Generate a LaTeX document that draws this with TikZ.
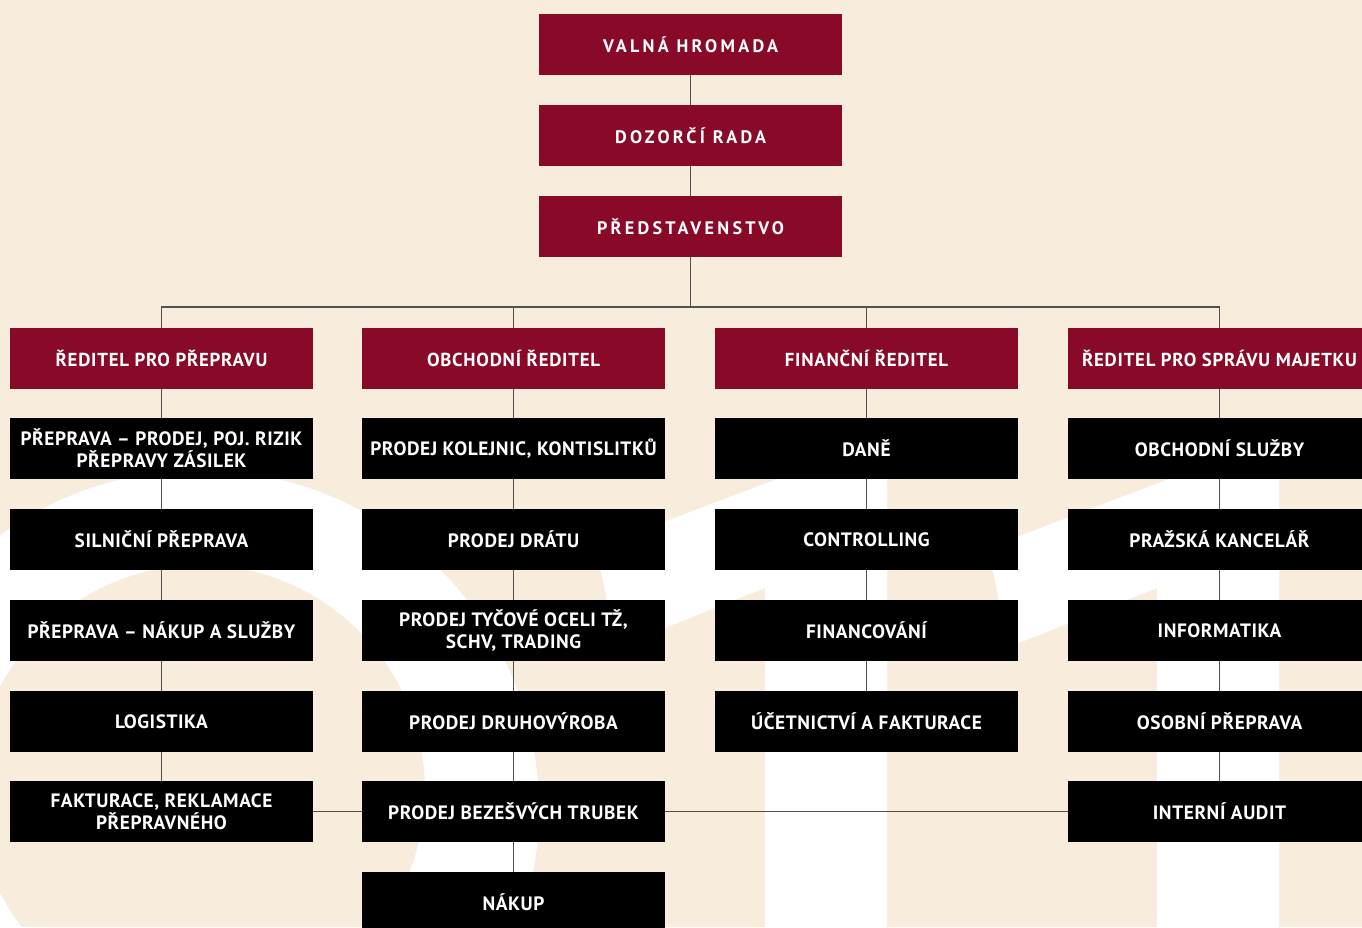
\documentclass[tikz,border=0pt]{standalone}
\usepackage{fontspec}
\setmainfont{PT Sans}
\usetikzlibrary{positioning}

\definecolor{crimson}{RGB}{136,10,40}
\definecolor{cream}{RGB}{248,237,220}
\definecolor{wirecol}{RGB}{80,80,80}

\tikzset{
  box/.style={minimum width=6.06cm, minimum height=1.22cm, inner sep=0pt,
    align=center, text=white},
  boardbox/.style={box, fill=crimson,
    font=\fontsize{10.3}{12}\selectfont\bfseries\addfontfeatures{LetterSpace=18}},
  headbox/.style={box, fill=crimson,
    font=\fontsize{10.7}{12}\selectfont\bfseries\addfontfeatures{LetterSpace=4}},
  deptbox/.style={box, fill=black,
    font=\fontsize{11}{12.5}\selectfont\bfseries\addfontfeatures{LetterSpace=3}},
  wire/.style={draw=wirecol, line width=0.6pt}
}

\begin{document}
\begin{tikzpicture}[x=0.02cm, y=-0.02cm]
  \useasboundingbox (0,0) rectangle (1362,927);
  \clip (0,0) rectangle (1362,927);
  % background letters
  \fill[cream] (0,0) rectangle (1362,927);
  \fill[white, even odd rule] (200,809) circle[radius=6.78cm] (200,790) circle[radius=4.5cm];
  \fill[white] (596,548) -- (887,437) -- (887,940) -- (765,940) -- (765,588) -- (617,647) -- cycle;
  \fill[white] (988,548) -- (1279,437) -- (1279,940) -- (1157,940) -- (1157,588) -- (1009,647) -- cycle;

  % board
  \node[boardbox] (valna) at (690.5,44.5) {VALNÁ HROMADA};
  \node[boardbox] (dozor) at (690.5,135.5) {DOZORČÍ RADA};
  \node[boardbox] (pred) at (690.5,226.5) {PŘEDSTAVENSTVO};
  \coordinate (bus) at (690.5,307);

  % directors
  \node[headbox] (hp) at (161.5,358.5) {ŘEDITEL PRO PŘEPRAVU};
  \node[headbox] (ho) at (513.5,358.5) {OBCHODNÍ ŘEDITEL};
  \node[headbox] (hf) at (866.5,358.5) {FINANČNÍ ŘEDITEL};
  \node[headbox] (hm) at (1219.5,358.5) {ŘEDITEL PRO SPRÁVU MAJETKU};

  % transport
  \node[deptbox] (p1) at (161.5,448.5) {PŘEPRAVA – PRODEJ, POJ. RIZIK\\PŘEPRAVY ZÁSILEK};
  \node[deptbox] (p2) at (161.5,539.5) {SILNIČNÍ PŘEPRAVA};
  \node[deptbox] (p3) at (161.5,630.5) {PŘEPRAVA – NÁKUP A SLUŽBY};
  \node[deptbox] (p4) at (161.5,721.5) {LOGISTIKA};
  \node[deptbox] (p5) at (161.5,811.5) {FAKTURACE, REKLAMACE\\PŘEPRAVNÉHO};

  % sales
  \node[deptbox] (o1) at (513.5,448.5) {PRODEJ KOLEJNIC, KONTISLITKŮ};
  \node[deptbox] (o2) at (513.5,539.5) {PRODEJ DRÁTU};
  \node[deptbox] (o3) at (513.5,630.5) {PRODEJ TYČOVÉ OCELI TŽ,\\SCHV, TRADING};
  \node[deptbox] (o4) at (513.5,721.5) {PRODEJ DRUHOVÝROBA};
  \node[deptbox] (o5) at (513.5,811.5) {PRODEJ BEZEŠVÝCH TRUBEK};
  \node[deptbox] (o6) at (513.5,902.5) {NÁKUP};

  % finance
  \node[deptbox] (f1) at (866.5,448.5) {DANĚ};
  \node[deptbox] (f2) at (866.5,539.5) {CONTROLLING};
  \node[deptbox] (f3) at (866.5,630.5) {FINANCOVÁNÍ};
  \node[deptbox] (f4) at (866.5,721.5) {ÚČETNICTVÍ A FAKTURACE};

  % property
  \node[deptbox] (m1) at (1219.5,448.5) {OBCHODNÍ SLUŽBY};
  \node[deptbox] (m2) at (1219.5,539.5) {PRAŽSKÁ KANCELÁŘ};
  \node[deptbox] (m3) at (1219.5,630.5) {INFORMATIKA};
  \node[deptbox] (m4) at (1219.5,721.5) {OSOBNÍ PŘEPRAVA};
  \node[deptbox] (m5) at (1219.5,811.5) {INTERNÍ AUDIT};

  % connectors
  \draw[wire] (valna) -- (dozor) -- (pred) -- (bus);
  \draw[wire] (hp) |- (bus) -| (hm);
  \draw[wire] (ho) -- (ho |- bus);
  \draw[wire] (hf) -- (hf |- bus);
  \draw[wire] (hp) -- (p1) -- (p2) -- (p3) -- (p4) -- (p5);
  \draw[wire] (ho) -- (o1) -- (o2) -- (o3) -- (o4) -- (o5) -- (o6);
  \draw[wire] (hf) -- (f1) -- (f2) -- (f3) -- (f4);
  \draw[wire] (hm) -- (m1) -- (m2) -- (m3) -- (m4) -- (m5);
  \draw[wire] (p5) -- (o5) -- (m5);
\end{tikzpicture}
\end{document}
